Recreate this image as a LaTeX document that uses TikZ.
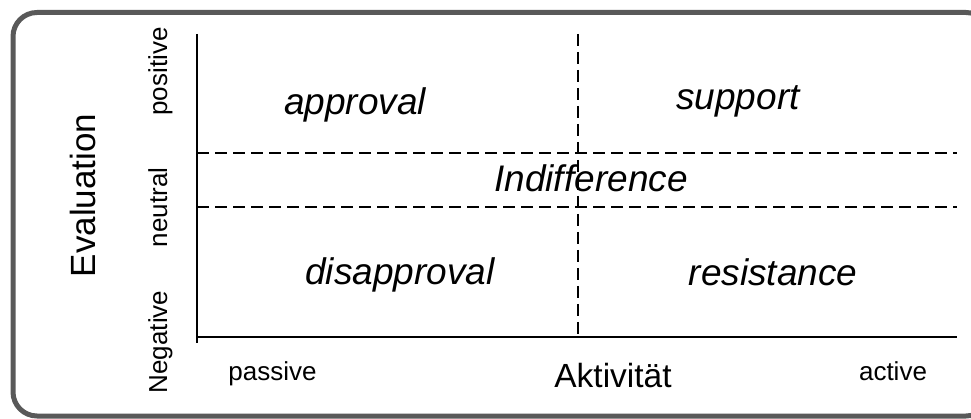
\documentclass[tikz,border=0pt]{standalone}
\usepackage{fontspec}
\setmainfont{Liberation Sans}
\definecolor{framegray}{RGB}{89,89,89}
\begin{document}
\begin{tikzpicture}[x=1pt,y=-1pt,
  axisline/.style={line width=1.8pt, black},
  dashline/.style={line width=1.8pt, black, dash pattern=on 12pt off 6pt},
  quad/.style={font=\fontsize{37}{40}\selectfont\itshape, anchor=base, inner sep=0pt},
  small/.style={font=\fontsize{26}{28}\selectfont, anchor=base, inner sep=0pt},
  big/.style={font=\fontsize{35}{38}\selectfont, anchor=base, inner sep=0pt},
]
\useasboundingbox (0,0) rectangle (971,419);
\begin{scope}
\clip (0,0) rectangle (971,419);
\draw[line width=5pt, framegray, rounded corners=24pt] (13,12.5) rectangle (990,416);
\end{scope}
% axes
\coordinate (Ytop) at (197,34);
\coordinate (Ybot) at (197,343);
\coordinate (O) at (197,337);
\coordinate (Xend) at (957,337);
\draw[axisline] (Ytop) -- (Ybot);
\draw[axisline] (O) -- (Xend);
% dashed dividers
\coordinate (Vt) at (578,34);
\coordinate (Vb) at (578,337);
\coordinate (H1a) at (197,153.3);
\coordinate (H1b) at (957,153.3);
\coordinate (H2a) at (197,207.3);
\coordinate (H2b) at (957,207.3);
\draw[dashline] (Vt) -- (Vb);
\draw[dashline] (H1a) -- (H1b);
\draw[dashline] (H2a) -- (H2b);
% quadrant labels
\node[quad] (approval) at (355,115) {approval};
\node[quad] (support) at (738,110) {support};
\node[quad] (indiff) at (591,192) {Indifference};
\node[quad] (disapproval) at (400,285) {disapproval};
\node[quad] (resistance) at (773,286) {resistance};
% axis labels
\node[big, rotate=90] (evaluation) at (95,195.5) {Evaluation};
\node[small, rotate=90] (positive) at (167,71.5) {positive};
\node[small, rotate=90] (neutral) at (167,207.5) {neutral};
\node[small, rotate=90] (negative) at (167,342) {Negative};
\node[small] (passive) at (272.5,380) {passive};
\node[small] (active) at (893,380) {active};
\node[font=\fontsize{33.5}{36}\selectfont, anchor=base, inner sep=0pt] (aktiv) at (613,387) {Aktivität};
\end{tikzpicture}
\end{document}
